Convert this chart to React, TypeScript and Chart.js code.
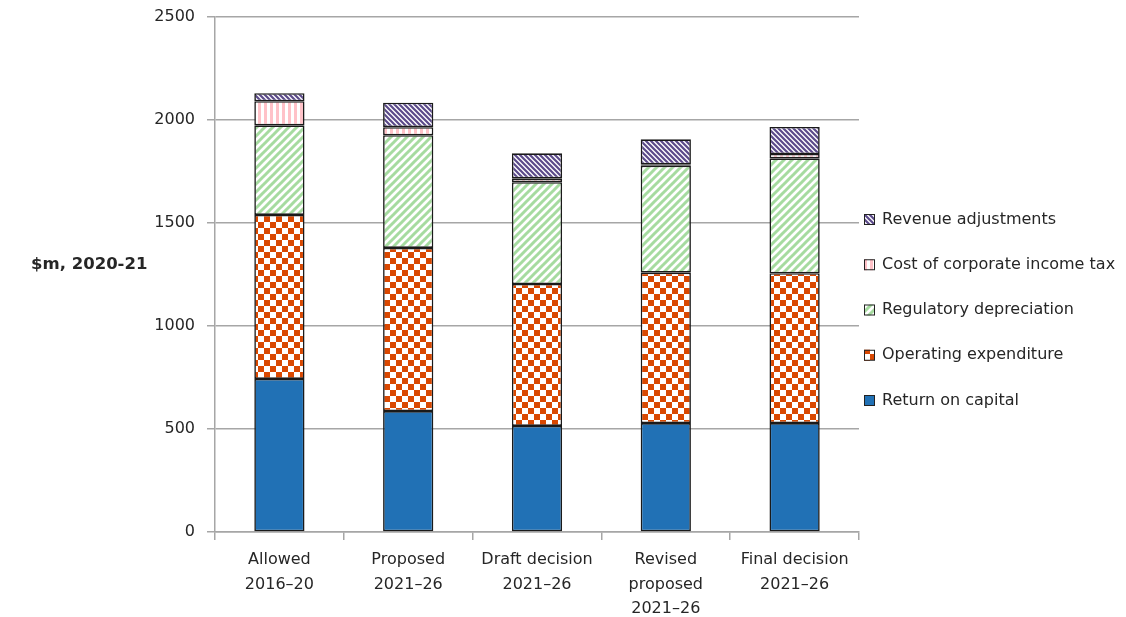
import { useEffect, useRef } from 'react'
import { Chart, registerables } from 'chart.js'

Chart.register(...registerables)

// Categories and stacked series ($m, 2020-21)
const categories = [
  ['Allowed', '2016–20'],
  ['Proposed', '2021–26'],
  ['Draft decision', '2021–26'],
  ['Revised', 'proposed', '2021–26'],
  ['Final decision', '2021–26']
]
const returnOnCapital = [743, 587, 515, 529, 529]
const operatingExpenditure = [796, 792, 689, 730, 727]
const regulatoryDepreciation = [435, 547, 494, 519, 558]
const corporateIncomeTax = [117, 39, 19, 7, 21]
const revenueAdjustments = [39, 119, 121, 121, 131]
const yMax = 2500
const yStep = 500
const yTitle = '$m, 2020-21'

const FONT = '"DejaVu Sans", sans-serif'
const TEXT = '#262626'
const GRID = '#a6a6a6'

// Small pattern tiles to imitate the Excel fills
function tile(w: number, h: number, draw: (ctx: CanvasRenderingContext2D) => void) {
  const c = document.createElement('canvas')
  c.width = w
  c.height = h
  const ctx = c.getContext('2d')!
  ctx.fillStyle = '#ffffff'
  ctx.fillRect(0, 0, w, h)
  draw(ctx)
  return ctx.createPattern(c, 'repeat')!
}

function checker(color: string, cell: number) {
  return tile(cell * 2, cell * 2, ctx => {
    ctx.fillStyle = color
    ctx.fillRect(0, 0, cell, cell)
    ctx.fillRect(cell, cell, cell, cell)
  })
}

function verticalStripes(color: string, period: number, width: number) {
  return tile(period, 1, ctx => {
    ctx.fillStyle = color
    ctx.fillRect(0, 0, width, 1)
  })
}

function diagonal(color: string, n: number, lw: number, forward: boolean) {
  return tile(n, n, ctx => {
    ctx.strokeStyle = color
    ctx.lineWidth = lw
    ctx.beginPath()
    if (forward) {
      ctx.moveTo(0, n); ctx.lineTo(n, 0)
      ctx.moveTo(-1, 1); ctx.lineTo(1, -1)
      ctx.moveTo(n - 1, n + 1); ctx.lineTo(n + 1, n - 1)
    } else {
      ctx.moveTo(0, 0); ctx.lineTo(n, n)
      ctx.moveTo(-1, n - 1); ctx.lineTo(1, n + 1)
      ctx.moveTo(n - 1, -1); ctx.lineTo(n + 1, 1)
    }
    ctx.stroke()
  })
}

// Legend on the right (top item = last dataset) and horizontal y title
const sidePlugin = {
  id: 'sideText',
  afterDraw(chart: Chart) {
    const { ctx, chartArea } = chart
    ctx.save()
    ctx.font = `bold 16.5px ${FONT}`
    ctx.fillStyle = TEXT
    ctx.textAlign = 'left'
    ctx.textBaseline = 'middle'
    ctx.fillText(yTitle, 31, 265)

    const items = [...chart.data.datasets].reverse()
    const step = 45.25
    const cy = chart.height / 2 + 1.5
    ctx.font = `16px ${FONT}`
    items.forEach((ds, i) => {
      const y = cy + (i - (items.length - 1) / 2) * step
      const x = chartArea.right + 5
      ctx.fillStyle = ds.backgroundColor as any
      ctx.fillRect(x, y - 5.5, 11, 11)
      ctx.strokeStyle = '#222222'
      ctx.lineWidth = 1
      ctx.strokeRect(x + 0.5, y - 5, 10, 10)
      ctx.fillStyle = TEXT
      ctx.fillText(ds.label as string, x + 18, y)
    })
    ctx.restore()
  }
}

const App = () => {
  const canvasRef = useRef<HTMLCanvasElement>(null)

  useEffect(() => {
    if (!canvasRef.current) return
    Chart.defaults.font.family = FONT

    const bar = {
      borderColor: '#1a1a1a',
      borderWidth: 1.6,
      borderSkipped: false as const,
      barPercentage: 0.39,
      categoryPercentage: 1
    }

    const chart = new Chart(canvasRef.current, {
      type: 'bar',
      data: {
        labels: categories,
        datasets: [
          { ...bar, label: 'Return on capital', data: returnOnCapital, backgroundColor: '#2171b5' },
          { ...bar, label: 'Operating expenditure', data: operatingExpenditure, backgroundColor: checker('#d94801', 6) },
          { ...bar, label: 'Regulatory depreciation', data: regulatoryDepreciation, backgroundColor: diagonal('#a6dba0', 8, 3, true) },
          { ...bar, label: 'Cost of corporate income tax', data: corporateIncomeTax, backgroundColor: verticalStripes('#ffc2c8', 6, 3) },
          { ...bar, label: 'Revenue adjustments', data: revenueAdjustments, backgroundColor: diagonal('#5b4a8a', 5, 2.2, false) }
        ]
      },
      options: {
        responsive: true,
        maintainAspectRatio: false,
        animation: false,
        layout: { padding: { left: 155, right: 267, top: 17, bottom: 0 } },
        plugins: {
          legend: { display: false },
          tooltip: { enabled: false }
        },
        scales: {
          x: {
            stacked: true,
            grid: { offset: true, drawOnChartArea: false, tickLength: 8, color: GRID, lineWidth: 1.5 },
            border: { color: GRID, width: 1.5 },
            ticks: {
              color: TEXT,
              font: { size: 16, lineHeight: 1.52 },
              padding: 8,
              maxRotation: 0,
              autoSkip: false
            },
            afterFit: (s: any) => { s.height = 85 }
          },
          y: {
            stacked: true,
            min: 0,
            max: yMax,
            ticks: {
              stepSize: yStep,
              color: TEXT,
              font: { size: 16 },
              padding: 12,
              callback: (v: any) => String(v)
            },
            grid: { color: GRID, lineWidth: 1.5, tickLength: 8 },
            border: { color: GRID, width: 1.5 },
            afterFit: (s: any) => {
              s.width = 60
              s.paddingTop = 0
              s.paddingBottom = 0
            }
          }
        }
      },
      plugins: [sidePlugin]
    })

    return () => chart.destroy()
  }, [])

  return (
    <div style={{ position: 'absolute', left: 0, top: 0, width: 1126, height: 617, background: '#fff' }}>
      <canvas ref={canvasRef} />
    </div>
  )
}

export default App
